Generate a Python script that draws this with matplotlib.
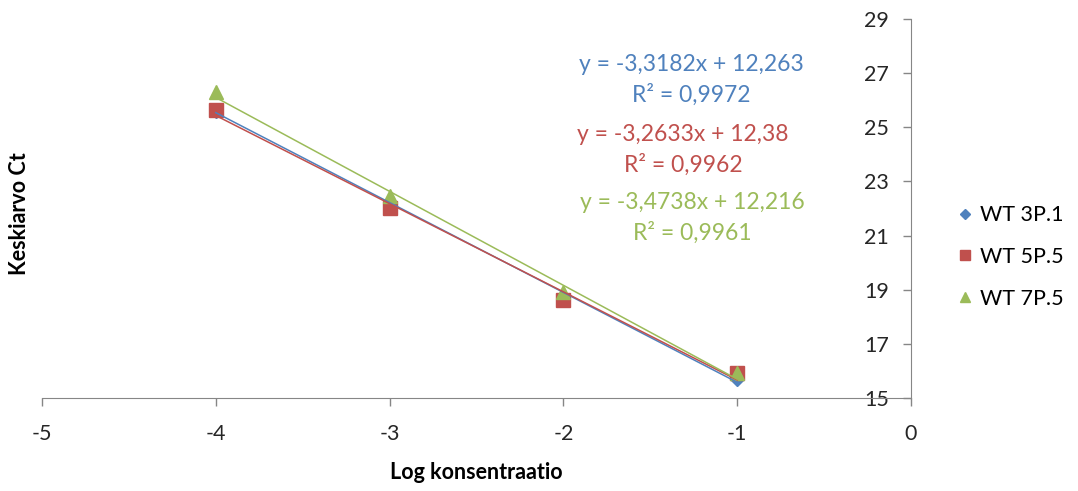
import matplotlib.pyplot as plt
import numpy as np

plt.rcParams['font.family'] = ['Lato', 'DejaVu Sans']
plt.rcParams['axes.unicode_minus'] = False

# log concentration on x, mean Ct on y
log_conc = [-4, -3, -2, -1]
wt3_ct = [25.58, 22.22, 18.78, 15.66]
wt5_ct = [25.64, 22.02, 18.62, 15.92]
wt7_ct = [26.30, 22.46, 18.91, 15.92]

series_names = ['WT 3P.1', 'WT 5P.5', 'WT 7P.5']
equations = ['y = -3,3182x + 12,263\nR² = 0,9972',
             'y = -3,2633x + 12,38\nR² = 0,9962',
             'y = -3,4738x + 12,216\nR² = 0,9961']
colors = ['#4F81BD', '#C0504D', '#9BBB59']
markers = ['D', 's', '^']
msizes = [6.5, 9.5, 10.5]

fig = plt.figure(figsize=(10.78, 4.91), dpi=100)
ax = fig.add_axes([42/1078, 1 - 398/491, (911 - 42)/1078, (398 - 19)/491])

all_ct = [wt3_ct, wt5_ct, wt7_ct]
for i in range(3):
    ax.plot(log_conc, all_ct[i], linestyle='none', marker=markers[i],
            markersize=msizes[i], color=colors[i], label=series_names[i], zorder=3)

# linear trendlines, drawn over the markers like in excel
for i in range(3):
    k, b = np.polyfit(log_conc, all_ct[i], 1)
    xx = np.array([log_conc[0], log_conc[-1]])
    ax.plot(xx, k * xx + b, color=colors[i], linewidth=1.1, zorder=4)

# equation labels
label_y = [26.75, 24.16, 21.65]
label_x = [-1.266, -1.312, -1.26]
for i in range(3):
    ax.text(label_x[i], label_y[i], equations[i], color=colors[i], fontsize=16.5,
            ha='center', va='center', linespacing=1.45)

ax.set_xlim(-5, 0)
ax.set_ylim(15, 29)
ax.set_xticks([-5, -4, -3, -2, -1, 0])
ax.set_yticks([15, 17, 19, 21, 23, 25, 27, 29])

for s in ['top', 'right']:
    ax.spines[s].set_visible(False)
ax.spines['left'].set_position(('data', 0))
ax.spines['left'].set_color('#868686')
ax.spines['bottom'].set_color('#868686')
ax.tick_params(axis='both', colors='#868686', labelcolor='#262626',
               labelsize=15.5, length=6, width=1)
ax.tick_params(axis='x', pad=13)
ax.tick_params(axis='y', pad=10)

ax.set_xlabel('Log konsentraatio', fontsize=15.5, fontweight='bold', labelpad=13)
fig.text(20/1078, 1 - 214/491, 'Keskiarvo Ct', rotation=90, fontsize=15.5,
         fontweight='bold', ha='center', va='center')

fig.legend(loc='center left', bbox_to_anchor=(933/1078, 1 - 257/491), frameon=False,
           fontsize=15.5, handletextpad=0.1, labelspacing=1.0, handlelength=1.2,
           markerscale=0.75)

plt.savefig('out.png', dpi=100)
